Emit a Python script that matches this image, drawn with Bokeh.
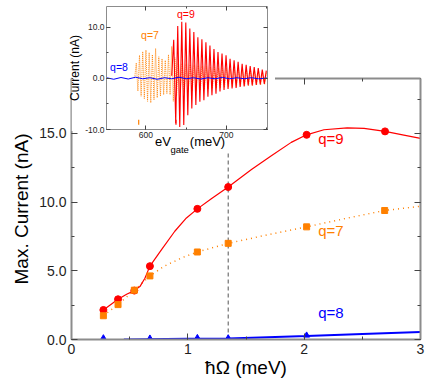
from bokeh.plotting import figure
from bokeh.layouts import column
from bokeh.models import (Range1d, LinearAxis, SingleIntervalTicker, NumeralTickFormatter,
                          Label, CustomJSTickFormatter)
from bokeh.embed import file_html
from bokeh.resources import INLINE

FONT = "Liberation Sans"

# ---------------- main panel data ----------------
omega = [0.274, 0.40, 0.54, 0.674, 1.082, 1.347, 2.021, 2.695]
q9_max = [2.15, 2.93, 3.56, 5.34, 9.51, 11.1, 14.9, 15.15]
q7_omega = [0.274, 0.40, 0.54, 0.674, 1.082, 1.347, 2.021, 2.692]
q7_max = [1.73, 2.54, 3.59, 4.63, 6.37, 7.0, 8.2, 9.39]
q8_omega = [0.274, 0.674, 1.082, 1.347, 2.021]
q8_max = [0.1, 0.08, 0.12, 0.1, 0.3]

# smooth guide curves
curve9_x = [0.274, 0.40, 0.474, 0.54, 0.588, 0.631, 0.674, 0.774, 0.888, 0.988, 1.082, 1.202,
            1.347, 1.547, 1.718, 1.889, 2.02, 2.17, 2.37, 2.515, 2.695, 2.857, 3.0]
curve9_y = [2.15, 2.93, 3.29, 3.56, 3.85, 4.46, 5.34, 6.54, 7.88, 8.85, 9.51, 10.24,
            11.1, 12.37, 13.37, 14.35, 14.9, 15.27, 15.4, 15.37, 15.15, 14.88, 14.64]
curve7_x = [0.274, 0.40, 0.54, 0.674, 0.8, 0.95, 1.082, 1.347, 1.7, 2.021, 2.35, 2.692, 3.0]
curve7_y = [1.73, 2.54, 3.59, 4.63, 5.35, 5.95, 6.37, 7.0, 7.65, 8.2, 8.8, 9.39, 9.7]
curve8_x = [0.45, 1.0, 1.347, 2.021, 2.5, 3.0]
curve8_y = [0.0, 0.05, 0.08, 0.26, 0.4, 0.54]
marked_omega = 1.347
marked_top = 13.6

# ---------------- inset data ----------------
vg_q9 = [632, 634.5, 637, 639.5, 642, 644.5, 647, 649.5, 652, 654.5, 657, 659.5, 662, 664.5,
         667, 669.5, 672, 674.5, 677, 679.5, 682, 684.5, 687, 689.5, 692, 694.5, 697, 699.5,
         702, 704.5, 707, 709.5, 712, 714.5, 717, 719.5, 722, 724.5, 727, 729.5, 732, 734.5,
         737, 739.5, 742, 744.5, 747, 749.5]
i_q9 = [0.5, 7.5, -8.8, 10.2, -9.5, 11.0, -9.1, 10.9, -7.2, 9.7, -5.9, 9.0, -5.2, 8.0,
        -4.6, 7.6, -4.3, 7.0, -3.6, 6.4, -3.3, 5.7, -3.0, 5.1, -2.6, 4.8, -2.3, 4.5,
        -2.1, 3.8, -2.0, 3.5, -1.9, 3.2, -1.7, 2.8, -1.6, 2.6, -1.4, 2.4, -1.4, 2.2,
        -1.3, 2.0, -1.2, 1.7, -1.1, 1.5]
vg_q7 = [586, 588, 590, 592, 594, 596, 598, 600, 602, 604, 606, 608, 610, 612, 614, 616,
         618, 620, 622, 624, 626, 628, 630, 632, 634, 636, 638, 640,
         642.5, 645, 647.5, 650, 652.5, 655, 657.5, 660, 662.5, 665, 667.5, 670, 672.5,
         675, 677.5, 680, 682.5, 685, 687.5, 690, 692.5, 695, 697.5, 700, 702.5, 705,
         707.5, 710, 712.5, 715, 717.5, 720, 722.5, 725, 727.5, 730, 732.5, 735, 737.5,
         740, 742.5, 745, 747.5, 750]
i_q7 = [0.0, 3.0, -2.5, 4.5, -3.5, 5.2, -4.0, 5.5, -4.5, 5.0, -4.8, 4.6, -4.2, 5.8, -3.8, 4.2,
        -3.5, 3.8, -3.2, 3.5, -3.0, 4.6, -3.2, 6.2, -4.5, 4.0, -3.5, 3.0,
        -2.8, 2.9, -2.7, 2.8, -2.6, 2.7, -2.5, 2.6, -2.4, 2.5, -2.3, 2.4, -2.2,
        2.3, -2.1, 2.2, -2.0, 2.1, -1.9, 2.0, -1.9, 1.9, -1.8, 1.9, -1.7, 1.8,
        -1.7, 1.7, -1.6, 1.7, -1.5, 1.6, -1.5, 1.5, -1.4, 1.5, -1.4, 1.4, -1.3,
        1.4, -1.3, 1.3, -1.2, 1.2]
vg_q8 = [551, 560, 569, 578, 587, 596, 605, 614, 623, 632, 641, 650, 659, 668, 677, 686,
         695, 704, 713, 722, 731, 740, 751]
i_q8 = [0.1, -0.2, 0.15, -0.15, 0.2, -0.1, 0.1, -0.2, 0.1, -0.1, 0.2, -0.1, 0.1, -0.15,
        0.1, -0.1, 0.15, -0.1, 0.1, -0.1, 0.1, -0.1, 0.05]
start_vg = [591, 637.3]
start_i = [-8.6, -8.6]
start_col = ["#FF8000", "#FF0000"]

RED = "#FF0000"
ORANGE = "#FF8000"
BLUE = "#0000FF"
SPINE = "#8C8C8C"
TXT = "#1E1E1E"


def style_axis(ax, fs, label_fs=None, tick_in=6, minor_in=3, lw=2):
    ax.axis_line_color = SPINE
    ax.axis_line_width = lw
    ax.major_tick_in = tick_in
    ax.major_tick_out = 0
    ax.minor_tick_in = minor_in
    ax.minor_tick_out = 0
    ax.major_tick_line_color = "#444444"
    ax.minor_tick_line_color = "#444444"
    ax.major_label_text_font = FONT
    ax.major_label_text_font_size = fs
    ax.major_label_text_color = TXT
    if label_fs:
        ax.axis_label_text_font = FONT
        ax.axis_label_text_font_size = label_fs
        ax.axis_label_text_font_style = "normal"
        ax.axis_label_text_color = "black"


# ---------------- main figure ----------------
p = figure(width=420, height=372, x_range=Range1d(0, 3), y_range=Range1d(0, 19),
           output_backend="svg", toolbar_location=None,
           min_border_left=61, min_border_right=8, min_border_top=70, min_border_bottom=41)
p.outline_line_color = None
p.xgrid.visible = False
p.ygrid.visible = False
p.background_fill_color = "white"
p.border_fill_color = "white"

p.xaxis.ticker = SingleIntervalTicker(interval=1, num_minor_ticks=2)
p.yaxis.ticker = SingleIntervalTicker(interval=5, num_minor_ticks=2)
p.yaxis.formatter = NumeralTickFormatter(format="0.0")
p.xaxis.axis_label = "ħΩ (meV)"
p.yaxis.axis_label = "Max. Current (nA)"
style_axis(p.xaxis[0], "14px", "19px")
style_axis(p.yaxis[0], "14px", "19px")
p.xaxis.major_label_standoff = 4
p.yaxis.major_label_standoff = 5
p.xaxis.axis_label_standoff = 0
p.yaxis.axis_label_standoff = 4

top_ax = LinearAxis(ticker=SingleIntervalTicker(interval=1, num_minor_ticks=2),
                    formatter=CustomJSTickFormatter(code="return ''"))
right_ax = LinearAxis(ticker=SingleIntervalTicker(interval=5, num_minor_ticks=2),
                      formatter=CustomJSTickFormatter(code="return ''"))
for ax in (top_ax, right_ax):
    style_axis(ax, "1px")
    ax.major_label_standoff = 0
p.add_layout(top_ax, "above")
p.add_layout(right_ax, "right")

p.segment(x0=[marked_omega], y0=[0], x1=[marked_omega], y1=[marked_top],
          line_color="#555555", line_width=1, line_dash="4 3")

p.line(curve7_x, curve7_y, line_color=ORANGE, line_width=1.5, line_dash="1 4")
p.line(curve9_x, curve9_y, line_color=RED, line_width=1.2)
p.line(curve8_x, curve8_y, line_color=BLUE, line_width=2)
p.scatter(omega, q9_max, marker="circle", size=7, fill_color=RED, line_color=RED)
p.scatter(q7_omega, q7_max, marker="square", size=6, fill_color=ORANGE, line_color=ORANGE)
p.scatter(q8_omega, q8_max, marker="triangle", size=6, fill_color=BLUE, line_color=BLUE)

for txt, yy, col in (("q=9", 14.6, RED), ("q=7", 7.95, ORANGE), ("q=8", 1.95, BLUE)):
    p.add_layout(Label(x=2.12, y=yy, text=txt, text_color=col, text_font=FONT,
                       text_font_size="15px", text_baseline="middle", text_align="left"))

# x title of the inset, eV_gate (meV), sits just under the inset (drawn in the main panel)
for txt, xx, yy, fs in (("eV", 0.718, 14.45, "13px"), ("gate", 0.850, 13.8, "9.5px"),
                        ("(meV)", 1.017, 14.45, "13px")):
    p.add_layout(Label(x=xx, y=yy, text=txt, text_color="black", text_font=FONT,
                       text_font_size=fs, text_baseline="alphabetic", text_align="left"))

# ---------------- white mask behind the inset ----------------
mask = figure(width=204, height=131, x_range=Range1d(0, 1), y_range=Range1d(0, 1),
              output_backend="svg", toolbar_location=None,
              min_border_left=0, min_border_right=0, min_border_top=0, min_border_bottom=0)
mask.axis.visible = False
mask.xgrid.visible = False
mask.ygrid.visible = False
mask.outline_line_color = None
mask.background_fill_color = "white"
mask.border_fill_color = "white"

# ---------------- inset figure ----------------
ins = figure(width=232, height=153, x_range=Range1d(551, 751), y_range=Range1d(-10, 14),
             output_backend="svg", toolbar_location=None,
             min_border_left=62, min_border_right=5, min_border_top=6, min_border_bottom=24)
ins.outline_line_color = None
ins.xgrid.visible = False
ins.ygrid.visible = False
ins.background_fill_color = "white"
ins.border_fill_alpha = 0
ins.xaxis.ticker = SingleIntervalTicker(interval=100, num_minor_ticks=2)
ins.yaxis.ticker = SingleIntervalTicker(interval=10, num_minor_ticks=2)
ins.yaxis.formatter = NumeralTickFormatter(format="0.0")
ins.yaxis.axis_label = "Current (nA)"
style_axis(ins.xaxis[0], "8.5px", tick_in=4, minor_in=2, lw=1)
style_axis(ins.yaxis[0], "8.5px", "12px", tick_in=4, minor_in=2, lw=1)
ins.xaxis.major_label_standoff = 2
ins.yaxis.major_label_standoff = 2
ins.yaxis.axis_label_standoff = 0
itop = LinearAxis(ticker=SingleIntervalTicker(interval=100, num_minor_ticks=2),
                  formatter=CustomJSTickFormatter(code="return ''"))
iright = LinearAxis(ticker=SingleIntervalTicker(interval=10, num_minor_ticks=2),
                    formatter=CustomJSTickFormatter(code="return ''"))
for ax in (itop, iright):
    style_axis(ax, "1px", tick_in=4, minor_in=2, lw=1)
    ax.major_label_standoff = 0
ins.add_layout(itop, "above")
ins.add_layout(iright, "right")

ins.line(vg_q7, i_q7, line_color=ORANGE, line_width=0.9, line_dash="1 1")
ins.line(vg_q9, i_q9, line_color=RED, line_width=1.1)
ins.line(vg_q8, i_q8, line_color=BLUE, line_width=1)
ins.scatter(start_vg, start_i, marker="dash", angle=1.5708, size=5, line_color=start_col,
            line_width=1.2)

for txt, xx, yy, col in (("q=8", 555.5, 2.1, BLUE), ("q=7", 594, 8.5, ORANGE),
                         ("q=9", 638.5, 12.6, RED)):
    ins.add_layout(Label(x=xx, y=yy, text=txt, text_color=col, text_font=FONT,
                         text_font_size="10.5px", text_baseline="middle", text_align="left"))

p.margin = (0, 0, 0, 0)
mask.margin = (-380, 0, 0, 63)
ins.margin = (-131, 0, 0, 35)

layout = column(p, mask, ins, spacing=0)
layout.margin = (8, 8, 8, 8)

open("out.html", "w").write(file_html(layout, INLINE))
